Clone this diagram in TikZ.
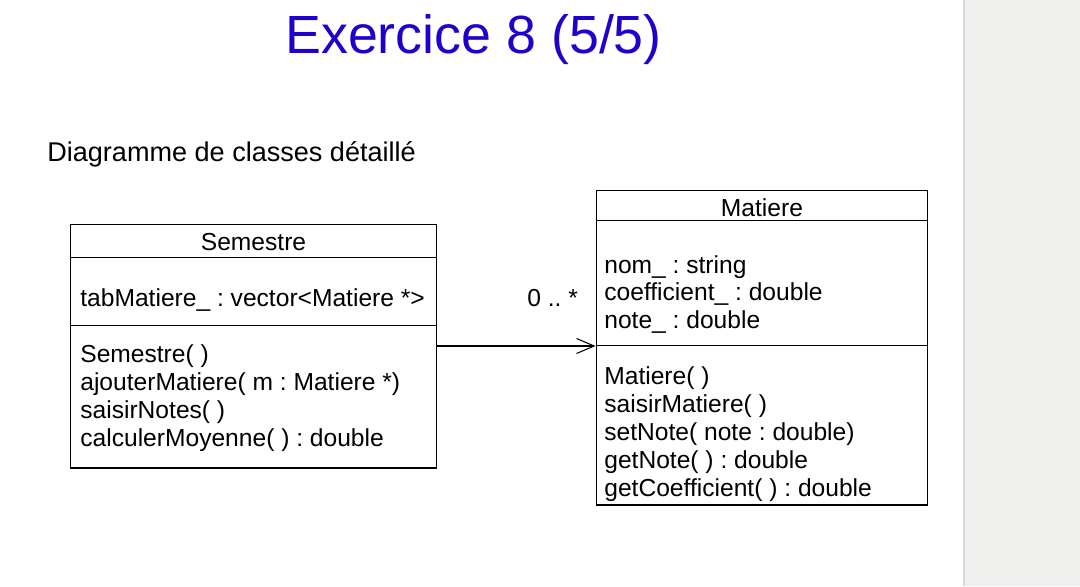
\documentclass[tikz,border=0pt]{standalone}
\usepackage{fontspec}
\setmainfont{Liberation Sans}
\usetikzlibrary{arrows.meta}
\definecolor{titleblue}{RGB}{34,0,204}
\definecolor{panelgray}{RGB}{239,239,238}
\frenchspacing

\begin{document}
\begin{tikzpicture}[x=0.02cm,y=-0.02cm,
  classbox/.style={draw,line width=0.6pt,inner sep=0pt},
  sepline/.style={line width=0.6pt},
  txt/.style={anchor=base west,inner sep=0pt,font=\fontsize{14}{16}\selectfont},
  cname/.style={anchor=base,inner sep=0pt,font=\fontsize{14}{16}\selectfont},
  assoc/.style={line width=0.6pt,-{Straight Barb[length=10pt,width=8.5pt]}}]
\useasboundingbox (0,0) rectangle (1080,586);
\fill[white] (0,0) rectangle (1080,586);
\fill[panelgray] (964,0) rectangle (1080,586);
\draw[gray!30,line width=0.8pt] (964,0) -- (964,586);

\node[anchor=base west,inner sep=0pt,text=titleblue,font=\fontsize{30.6}{36}\selectfont] (titre) at (285,53) {Exercice 8 (5/5)};
\node[anchor=base west,inner sep=0pt,font=\fontsize{15.4}{18}\selectfont] (soustitre) at (47,161) {Diagramme de classes détaillé};

% classe Semestre
\node[classbox,minimum width=7.34cm,minimum height=4.88cm] (sem) at (253.5,346) {};
\draw[sepline] ([yshift=-0.68cm]sem.north west) -- ([yshift=-0.68cm]sem.north east);
\draw[sepline] ([yshift=-2.04cm]sem.north west) -- ([yshift=-2.04cm]sem.north east);
\node[cname] (semnom) at (253.5,250) {Semestre};
\node[txt] (semattr) at (80,306.7) {tabMatiere\_ : vector<Matiere *>};
\node[txt] (semop1) at (80,362) {Semestre( )};
\node[txt] (semop2) at (80,390) {ajouterMatiere( m : Matiere *)};
\node[txt] (semop3) at (80,418) {saisirNotes( )};
\node[txt] (semop4) at (80,446) {calculerMoyenne( ) : double};

% classe Matiere
\node[classbox,minimum width=6.64cm,minimum height=6.3cm] (mat) at (762,347.5) {};
\draw[sepline] ([yshift=-0.62cm]mat.north west) -- ([yshift=-0.62cm]mat.north east);
\draw[sepline] ([yshift=-3.12cm]mat.north west) -- ([yshift=-3.12cm]mat.north east);
\node[cname] (matnom) at (762,216) {Matiere};
\node[txt] (matattr1) at (604,273) {nom\_ : string};
\node[txt] (matattr2) at (604,300) {coefficient\_ : double};
\node[txt] (matattr3) at (604,328) {note\_ : double};
\node[txt] (matop1) at (604,384) {Matiere( )};
\node[txt] (matop2) at (604,412) {saisirMatiere( )};
\node[txt] (matop3) at (604,440) {setNote( note : double)};
\node[txt] (matop4) at (604,468) {getNote( ) : double};
\node[txt] (matop5) at (604,496) {getCoefficient( ) : double};

% association
\node[txt] (mult) at (527,306.7) {0 .. *};
\draw[assoc] (sem.east) -- (sem.east -| mat.west);
\end{tikzpicture}
\end{document}
